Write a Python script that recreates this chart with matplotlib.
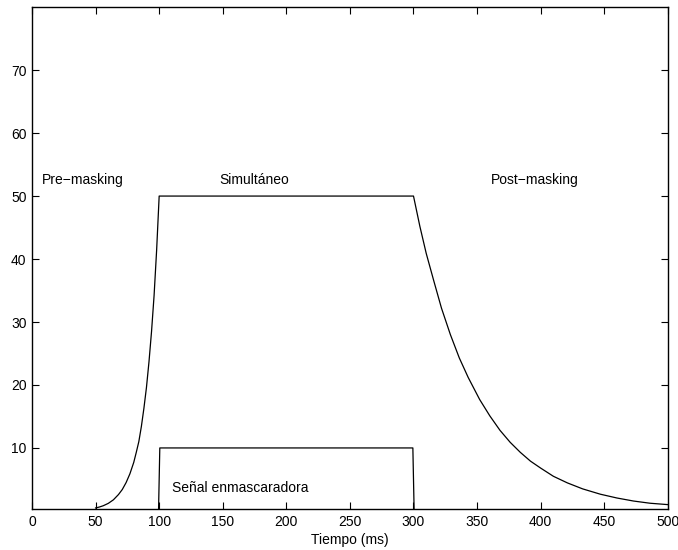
import numpy as np
import matplotlib
matplotlib.use('Agg')
import matplotlib.pyplot as plt

plt.rcParams['font.family'] = ['Liberation Sans', 'DejaVu Sans']
plt.rcParams['font.size'] = 10

# masking threshold curve
pre_t = [50, 53, 56, 60, 64, 68, 71, 74, 77, 80, 82, 84, 86, 88, 90, 92, 94, 96, 98, 100]
pre_db = [0.47, 0.62, 0.82, 1.2, 1.76, 2.6, 3.4, 4.5, 5.9, 7.7, 9.3, 11.0, 13.4, 16.3, 19.6, 23.7, 28.5, 34.2, 41.4, 50.0]
sim_t = [100, 300]
sim_db = [50, 50]
post_t = [300, 305, 310, 316, 322, 329, 336, 343, 352, 360, 368, 376, 384, 392, 400, 410, 421, 433, 447, 460, 473, 486, 500]
post_db = [50, 45.2, 40.9, 36.5, 32.2, 28.0, 24.3, 21.2, 17.7, 15.1, 12.8, 10.9, 9.3, 7.9, 6.8, 5.5, 4.45, 3.5, 2.65, 2.05, 1.57, 1.22, 1.0]

# masker
masker_t = [99.5, 100.5, 299.5, 300.5]
masker_db = [0, 10, 10, 0]

thr_t = pre_t + sim_t[1:] + post_t[1:]
thr_db = pre_db + sim_db[1:] + post_db[1:]

fig = plt.figure(figsize=(6.78, 5.5), dpi=100)
ax = fig.add_axes([0.0472, 0.0745, 0.9378, 0.9125])

ax.plot(thr_t, thr_db, color='k', linewidth=0.9)
ax.plot(masker_t, masker_db, color='k', linewidth=0.9)

ax.text(40, 52.5, 'Pre\u2212masking', ha='center', va='center')
ax.text(174.5, 52.5, 'Simultáneo', ha='center', va='center')
ax.text(395, 52.5, 'Post\u2212masking', ha='center', va='center')
ax.text(164, 3.6, 'Señal enmascaradora', ha='center', va='center')

ax.set_xlim(0, 500)
ax.set_ylim(0.3, 80)
ax.set_xticks(np.arange(0, 501, 50))
ax.set_yticks(np.arange(10, 71, 10))
ax.tick_params(direction='in', top=True, right=True, length=5, width=0.8, pad=4)
for s in ax.spines.values():
    s.set_linewidth(1.0)
ax.set_xlabel('Tiempo (ms)', labelpad=3)

fig.savefig('out.png', dpi=100)
